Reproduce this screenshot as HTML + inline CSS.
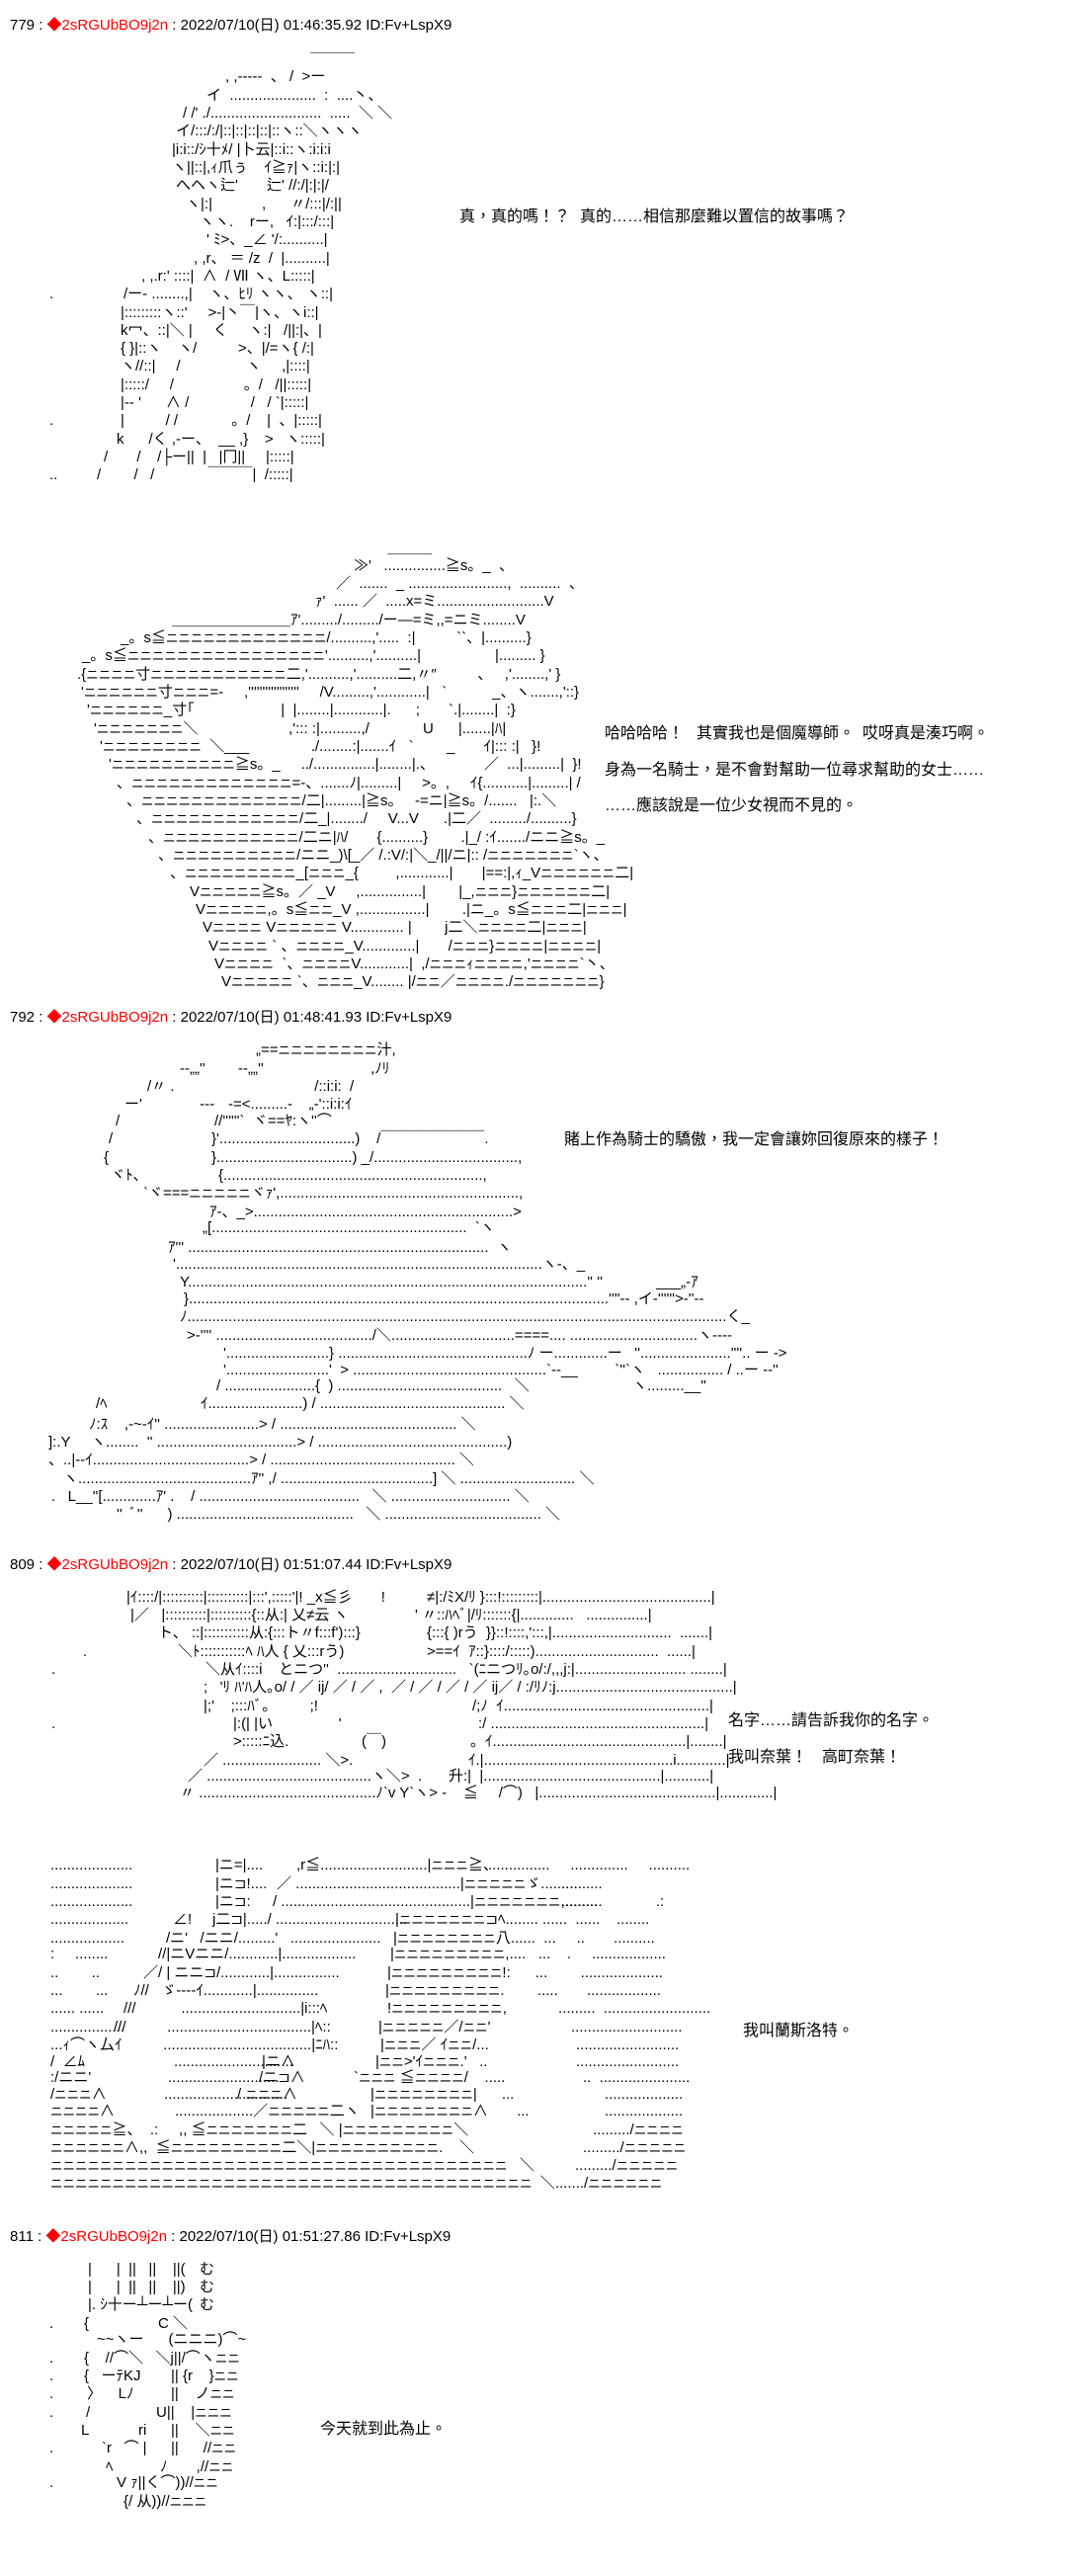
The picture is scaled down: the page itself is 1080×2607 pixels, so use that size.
<!DOCTYPE html>
<html><head><meta charset="utf-8"><style>
body{margin:0;width:1080px;height:2607px;background:#fff;position:relative;overflow:hidden;font-family:"Liberation Sans","Noto Sans CJK JP",sans-serif;color:#000}
.l{position:absolute;white-space:pre;font-size:15px;line-height:18px}
i{font-style:normal;font-size:12.5px}
.h{font-size:15px}
.r{color:#f00}
.t{font-family:"Liberation Sans","Noto Sans CJK TC",sans-serif;font-size:16px}
</style></head><body>

<div class="l h" style="left:10px;top:17px">779 : <span class="r">◆2sRGUbBO9j2n</span> : 2022/07/10(日) 01:46:35.92 ID:Fv+LspX9</div>
<div class="l" style="left:314px;top:53px">￣￣￣</div>
<div class="l" style="left:228px;top:69px">, ,-----  、 /  >ー</div>
<div class="l" style="left:209px;top:88px">イ  .....................  :  ....丶、</div>
<div class="l" style="left:185px;top:106px">/ /' ./...........................  .....  ＼ ＼</div>
<div class="l" style="left:178px;top:124px">イ/:::/:/|::|::|::|::|::ヽ::＼ヽヽヽ</div>
<div class="l" style="left:174px;top:143px">|i:i::/ｼ十ﾒ/ |卜云|::i::ヽ:i:i:i</div>
<div class="l" style="left:174px;top:161px">ヽ||::|,ｨ爪ぅ    ｲ≧ｧ|ヽ::i:|:|</div>
<div class="l" style="left:178px;top:179px">へヘヽ辷'       辷' //:/|:|:|/</div>
<div class="l" style="left:188px;top:198px">ヽ|:|            ,      〃/:::|/:||</div>
<div class="l" style="left:202px;top:216px">ヽヽ.    rー,   ｲ:|:::/:::|</div>
<div class="l" style="left:209px;top:234px">' ﾐ>、_∠ '/:..........|</div>
<div class="l" style="left:196px;top:253px">, ,r、 ＝ /z  /  |..........|</div>
<div class="l" style="left:143px;top:271px">, ,.r:' ::::|  ∧  / Ⅶ ヽ、L:::::|</div>
<div class="l" style="left:50px;top:289px">.</div>
<div class="l" style="left:125px;top:289px">/ー- ........,|    ヽ、ﾋﾘ ヽヽ、 ヽ::|</div>
<div class="l" style="left:122px;top:308px">|:::::::::ヽ::'     >-|丶￣|ヽ、ヽi::|</div>
<div class="l" style="left:122px;top:326px">k冖、::|＼ |     く     ヽ:|   /||:|、|</div>
<div class="l" style="left:122px;top:344px">{ }|::ヽ    ヽ/          >、|/=ヽ{ /:|</div>
<div class="l" style="left:122px;top:362px">ヽ//::|     /                ヽ     ,|::::|</div>
<div class="l" style="left:122px;top:381px">|:::::/     /                 。/   /||:::::|</div>
<div class="l" style="left:122px;top:399px">|-- '      ∧ /               /   / `|:::::|</div>
<div class="l" style="left:50px;top:417px">.</div>
<div class="l" style="left:122px;top:417px">|          / /             。/    |  、|:::::|</div>
<div class="l" style="left:118px;top:436px">k      /く ,-ー、  __ ,}    >   ヽ:::::|</div>
<div class="l" style="left:105px;top:454px">/       /    /├ー||  |   |冂||     |:::::|</div>
<div class="l" style="left:50px;top:472px">..</div>
<div class="l" style="left:98px;top:472px">/        /   /             ￣￣￣|  /:::::|</div>
<div class="l t" style="left:465px;top:211px">真，真的嗎！？</div>
<div class="l t" style="left:587px;top:211px">真的……相信那麼難以置信的故事嗎？</div>

<div class="l" style="left:392px;top:546px">＿＿＿</div>
<div class="l" style="left:358px;top:564px">≫'   ...............≧s。_  、</div>
<div class="l" style="left:340px;top:582px">／  .......  _ ........................,  ..........  、</div>
<div class="l" style="left:319px;top:600px">ｧ'  ...... ／  .....x=ミ..........................V</div>
<div class="l" style="left:174px;top:619px">＿＿＿＿＿＿＿＿ｱ'........./........./ー―=ミ,,=ニミ........V</div>
<div class="l" style="left:122px;top:637px">_。s≦<i>ニニニニニニニニニニニニニ</i>/..........,'.....  :|          ``、|..........}</div>
<div class="l" style="left:83px;top:655px">_。s≦<i>ニニニニニニニニニニニニニニニニ</i>'..........,'..........|                  |......... }</div>
<div class="l" style="left:78px;top:674px">.{<i>ニニニニ</i>寸<i>ニニニニニニニニニニニ</i>二,'..........,'..........二,〃″          、   ,'........,' }</div>
<div class="l" style="left:82px;top:692px">'<i>ニニニニニニ</i>寸<i>ニニニ</i>=-     ,''''''''''''''''''     /V.........,'............|   `           _、ヽ.......,'::}</div>
<div class="l" style="left:88px;top:710px">'<i>ニニニニニニ</i>_寸｢                     |  |........|............|.      ;       `.|........|  :}</div>
<div class="l" style="left:95px;top:729px">'<i>ニニニニニニニ</i>＼                      ,'::: :|..........,/             U      |.......|ﾊ|</div>
<div class="l" style="left:101px;top:747px">'<i>ニニニニニニニニ</i>  ＼___               ./........:|.......ｲ   `        _       ｲ|::: :|   }!</div>
<div class="l" style="left:110px;top:765px">'<i>ニニニニニニニニニニ</i>≧s。_     ../...............|........|.、            ／  ...|.........|  }!</div>
<div class="l" style="left:118px;top:784px">、<i>ニニニニニニニニニニニニニ</i>=-、.......ﾉ|.........|     >。,     ｲ{...........|.........| /</div>
<div class="l" style="left:128px;top:802px">、<i>ニニニニニニニニニニニニニ</i>/二|.........|≧s。   -=ニ|≧s。/.......   |:.＼</div>
<div class="l" style="left:138px;top:820px">、<i>ニニニニニニニニニニニニ</i>/二_|......../     V...V      .|二／  ........./..........}</div>
<div class="l" style="left:150px;top:839px">、<i>ニニニニニニニニニニニ</i>/二ニ|ﾊ/       {..........}        .|_/ :ｲ......./ニニ≧s。_</div>
<div class="l" style="left:160px;top:857px">、<i>ニニニニニニニニニニ</i>/ニニ_)\[_／ /.:V/:|＼_/||/ニ|:: /<i>ニニニニニニニ</i>`ヽ、</div>
<div class="l" style="left:172px;top:875px">、<i>ニニニニニニニニニ</i>_[<i>ニニニ</i>_{         ,............|       |==:|,ｨ_V<i>ニニニニニニ</i>二|</div>
<div class="l" style="left:192px;top:894px">V<i>ニニニニニ</i>≧s。／ _V     ,...............|        |_,<i>ニニニ</i>}<i>ニニニニニニ</i>二|</div>
<div class="l" style="left:198px;top:912px">V<i>ニニニニニ</i>,。s≦<i>ニニ</i>_V ,................|        .|ニ_。s≦<i>ニニニ</i>二|<i>ニニニ</i>|</div>
<div class="l" style="left:205px;top:930px">V<i>ニニニニ</i> V<i>ニニニニニ</i> V............. |        j二＼<i>ニニニニ</i>二|<i>ニニニ</i>|</div>
<div class="l" style="left:211px;top:949px">V<i>ニニニニ</i> ` 、<i>ニニニニ</i>_V.............|       /<i>ニニニ</i>}<i>ニニニニ</i>|<i>ニニニニ</i>|</div>
<div class="l" style="left:217px;top:967px">V<i>ニニニニ</i>  `、<i>ニニニニ</i>V............|  ,/<i>ニニニ</i>ｨ<i>ニニニニ</i>,'<i>ニニニニ</i>`丶、</div>
<div class="l" style="left:224px;top:985px">V<i>ニニニニニ</i> `、<i>ニニニ</i>_V........ |/<i>ニニ</i>／<i>ニニニニ</i>./<i>ニニニニニニニ</i>}</div>
<div class="l t" style="left:612px;top:734px">哈哈哈哈！</div>
<div class="l t" style="left:705px;top:734px">其實我也是個魔導師。</div>
<div class="l t" style="left:873px;top:734px">哎呀真是湊巧啊。</div>
<div class="l t" style="left:612px;top:771px">身為一名騎士，是不會對幫助一位尋求幫助的女士……</div>
<div class="l t" style="left:612px;top:807px">……應該說是一位少女視而不見的。</div>

<div class="l h" style="left:10px;top:1021px">792 : <span class="r">◆2sRGUbBO9j2n</span> : 2022/07/10(日) 01:48:41.93 ID:Fv+LspX9</div>
<div class="l" style="left:259px;top:1054px">„==<i>ニニニニニニニニ</i>汁,</div>
<div class="l" style="left:182px;top:1073px">--„„''        --„„''                          ,ﾉﾘ</div>
<div class="l" style="left:149px;top:1091px">/〃 .                                  /::i:i:  /</div>
<div class="l" style="left:126px;top:1109px">ー'              ---         </div>
<div class="l" style="left:231px;top:1109px">-=<.........-    „-'::i:i:ｲ</div>
<div class="l" style="left:117px;top:1126px">/</div>
<div class="l" style="left:217px;top:1126px">//''''''`  ヾ==ﾔ:ヽ''⌒</div>
<div class="l" style="left:110px;top:1144px">/</div>
<div class="l" style="left:214px;top:1144px">}'.................................)    /￣￣￣￣￣￣￣.</div>
<div class="l" style="left:105px;top:1163px">{</div>
<div class="l" style="left:214px;top:1163px">}.................................) _/...................................,</div>
<div class="l" style="left:112px;top:1181px">ヾﾄ、</div>
<div class="l" style="left:221px;top:1181px">{...............................................................,</div>
<div class="l" style="left:145px;top:1199px">`ヾ===<i>ニニニニニ</i>ヾｧ',..........................................................,</div>
<div class="l" style="left:212px;top:1218px">ｱ-、_>...............................................................></div>
<div class="l" style="left:205px;top:1234px">„[..............................................................  `ヽ</div>
<div class="l" style="left:170px;top:1254px">ｱ''' .........................................................................  ヽ</div>
<div class="l" style="left:175px;top:1271px">'.........................................................................................ヽ-、_</div>
<div class="l" style="left:182px;top:1289px">Y.................................................................................................'' ''             ___„-ｱ</div>
<div class="l" style="left:186px;top:1306px">}......................................................................................................''''-- ,イ-''''''>-''--</div>
<div class="l" style="left:182px;top:1324px">ﾉ...................................................................................................................................く_</div>
<div class="l" style="left:189px;top:1343px">>-'''' ....................................../＼..............................====.... ...............................ヽ----</div>
<div class="l" style="left:226px;top:1361px">'.........................} ..............................................ﾉ ー.............ー   ''......................''''.. ー -></div>
<div class="l" style="left:226px;top:1378px">'.........................'  > ...............................................`--__         `''`ヽ   ................ / ..ー --''</div>
<div class="l" style="left:640px;top:1394px">ヽ.........__''</div>
<div class="l" style="left:219px;top:1394px">/ ......................{  ) ........................................   ＼</div>
<div class="l" style="left:97px;top:1412px">/ﾍ</div>
<div class="l" style="left:203px;top:1412px">ｲ.......................) / ............................................. ＼</div>
<div class="l" style="left:90px;top:1433px">ﾉ:ｽ    ,-~-ｲ'' .......................> / ........................................... ＼</div>
<div class="l" style="left:49px;top:1451px">]:.Y     ヽ........  '' ..................................> / ..............................................)</div>
<div class="l" style="left:49px;top:1469px">、..|--ｲ......................................> / ............................................. ＼</div>
<div class="l" style="left:64px;top:1488px">ヽ..........................................ｱ'' ,/ .....................................] ＼ ............................ ＼</div>
<div class="l" style="left:52px;top:1506px">.   L__''[.............ｱ' .    / .......................................   ＼ ............................. ＼</div>
<div class="l" style="left:118px;top:1524px">''  ﾞ''      ) ...........................................   ＼ ...................................... ＼</div>
<div class="l t" style="left:571px;top:1145px">賭上作為騎士的驕傲，我一定會讓妳回復原來的樣子！</div>

<div class="l h" style="left:10px;top:1575px">809 : <span class="r">◆2sRGUbBO9j2n</span> : 2022/07/10(日) 01:51:07.44 ID:Fv+LspX9</div>
<div class="l" style="left:128px;top:1608px">|ｲ::::/|::::::::::|::::::::::|:::',:::::'|! _x≦彡       !</div>
<div class="l" style="left:432px;top:1608px">≠|:/ﾐX/ﾘ }:::!:::::::::|.........................................|</div>
<div class="l" style="left:132px;top:1626px">|／   |::::::::::|::::::::::{::从:| 乂≠云 ヽ</div>
<div class="l" style="left:420px;top:1626px">' 〃::ﾊﾍﾞ|/ﾘ:::::::{|.............   ...............|</div>
<div class="l" style="left:160px;top:1644px">ト、 ::|:::::::::::从:{:::ト〃f:::f'):::}</div>
<div class="l" style="left:432px;top:1644px">{:::{ )rう  }}::!::::,':::,|.............................  .......|</div>
<div class="l" style="left:84px;top:1663px">.</div>
<div class="l" style="left:180px;top:1663px">＼ﾄ:::::::::::ﾍ ﾊ人 { 乂:::rう)</div>
<div class="l" style="left:432px;top:1663px">>==ｲ  ｱ::}::::/:::::)..............................  ......|</div>
<div class="l" style="left:52px;top:1681px">.</div>
<div class="l" style="left:208px;top:1681px">＼从ｲ::::i    とニつ''  .............................   `(ﾆニつﾘ｡o/:/,,,j:|........................... ........|</div>
<div class="l" style="left:206px;top:1699px">;   'ﾘ ﾊ'ﾊ人｡o/ / ／ ij/ ／ / ／ ,  ／ / ／ / ／ / ／ ij／ / :/ﾘﾉ:j...........................................|</div>
<div class="l" style="left:206px;top:1718px">|;'    ;:::ﾊﾞ。        ;!</div>
<div class="l" style="left:478px;top:1718px">/;ﾉ  ｲ..................................................|</div>
<div class="l" style="left:52px;top:1736px">.</div>
<div class="l" style="left:236px;top:1736px">|:(| |い                '</div>
<div class="l" style="left:484px;top:1736px">:/ ....................................................|</div>
<div class="l" style="left:236px;top:1754px">>:::::ﾆ込.</div>
<div class="l" style="left:366px;top:1754px">(￣)</div>
<div class="l" style="left:476px;top:1754px">。ｲ...............................................|........|</div>
<div class="l" style="left:206px;top:1773px">／ ........................ ＼>.</div>
<div class="l" style="left:474px;top:1773px">ｲ.|..............................................i............|</div>
<div class="l" style="left:190px;top:1789px">／ ........................................ヽ＼>  .</div>
<div class="l" style="left:454px;top:1789px">升:|  |...........................................|...........|</div>
<div class="l" style="left:182px;top:1806px">〃 ...........................................ﾉ`v Y`ヽ> -    ≦     /⌒)   |...........................................|.............|</div>
<div class="l t" style="left:737px;top:1733px">名字……請告訴我你的名字。</div>
<div class="l t" style="left:737px;top:1770px">我叫奈葉！</div>
<div class="l t" style="left:832px;top:1770px">高町奈葉！</div>

<div class="l" style="left:51px;top:1879px">....................</div>
<div class="l" style="left:218px;top:1879px">|ニ=|....</div>
<div class="l" style="left:300px;top:1879px">,r≦..........................|<i>ニニニ</i>≧、</div>
<div class="l" style="left:494px;top:1879px">...............     ..............     ..........</div>
<div class="l" style="left:51px;top:1898px">....................</div>
<div class="l" style="left:218px;top:1898px">|ニ⊐!....</div>
<div class="l" style="left:280px;top:1898px">／ ........................................|<i>ニニニニニ</i>ゞ..........</div>
<div class="l" style="left:568px;top:1898px">..........</div>
<div class="l" style="left:51px;top:1916px">....................</div>
<div class="l" style="left:218px;top:1916px">|ニ⊐:</div>
<div class="l" style="left:276px;top:1916px">/ ..............................................|<i>ニニニニニニニ</i>,........</div>
<div class="l" style="left:568px;top:1916px">..........             .:</div>
<div class="l" style="left:51px;top:1934px">...................</div>
<div class="l" style="left:175px;top:1934px">∠!     j二⊐|...../ ................................</div>
<div class="l" style="left:400px;top:1934px">|<i>ニニニニニニニ</i>⊐ﾍ........ ......  ......    ........</div>
<div class="l" style="left:51px;top:1953px">..................</div>
<div class="l" style="left:168px;top:1953px">/ニ'   /ニニ/.........'   ......................</div>
<div class="l" style="left:398px;top:1953px">|<i>ニニニニニニニニ</i>八......  ...     ..       ..........</div>
<div class="l" style="left:51px;top:1969px">:     ........</div>
<div class="l" style="left:160px;top:1969px">//|ニVニニ/............|..................</div>
<div class="l" style="left:395px;top:1969px">|<i>ニニニニニニニニニ</i>,....   ...    .     ..................</div>
<div class="l" style="left:51px;top:1988px">..        ..</div>
<div class="l" style="left:145px;top:1988px">／/ | ニニ⊐/............|................</div>
<div class="l" style="left:392px;top:1988px">|<i>ニニニニニニニニニ</i>!:      ...        ....................</div>
<div class="l" style="left:51px;top:2006px">...        ...</div>
<div class="l" style="left:135px;top:2006px">ﾉ//   ゞ----ｲ............|...............</div>
<div class="l" style="left:390px;top:2006px">|<i>ニニニニニニニニニ</i>.        .....       ..................</div>
<div class="l" style="left:51px;top:2024px">...... ......</div>
<div class="l" style="left:125px;top:2024px">///           .............................|i:::ﾍ</div>
<div class="l" style="left:392px;top:2024px">!<i>ニニニニニニニニニ</i>,</div>
<div class="l" style="left:565px;top:2024px">.........  ..........................</div>
<div class="l" style="left:51px;top:2043px">..................</div>
<div class="l" style="left:115px;top:2043px">///          ...................................|ﾍ::</div>
<div class="l" style="left:383px;top:2043px">|<i>ニニニニニ</i>／/<i>ニニ</i>'</div>
<div class="l" style="left:578px;top:2043px">...........................</div>
<div class="l" style="left:51px;top:2061px">...ｨ⌒ヽ厶ｲ          ....................................|ﾆﾊ::</div>
<div class="l" style="left:385px;top:2061px">|<i>ニニニ</i>／ ｲ<i>ニニ</i>/...</div>
<div class="l" style="left:583px;top:2061px">.........................</div>
<div class="l" style="left:51px;top:2078px">/  ∠ﾑ</div>
<div class="l" style="left:176px;top:2078px">.............................</div>
<div class="l" style="left:265px;top:2078px">|ニ∧</div>
<div class="l" style="left:380px;top:2078px">|<i>ニニ</i>>'ｲ<i>ニニニ</i>.'   ..</div>
<div class="l" style="left:583px;top:2078px">.........................</div>
<div class="l" style="left:51px;top:2094px">:/ニニ'</div>
<div class="l" style="left:170px;top:2094px">...........................</div>
<div class="l" style="left:262px;top:2094px">/ニ⊐∧</div>
<div class="l" style="left:358px;top:2094px">`<i>ニニニ</i> ≦<i>ニニニニ</i>/    .....</div>
<div class="l" style="left:590px;top:2094px">..  ......................</div>
<div class="l" style="left:51px;top:2111px">/<i>ニニニ</i>∧</div>
<div class="l" style="left:166px;top:2111px">..............................</div>
<div class="l" style="left:240px;top:2111px">/ <i>ニニニ</i>∧</div>
<div class="l" style="left:375px;top:2111px">|<i>ニニニニニニニニ</i>|      ...</div>
<div class="l" style="left:612px;top:2111px">...................</div>
<div class="l" style="left:51px;top:2128px"><i>ニニニニ</i>∧</div>
<div class="l" style="left:177px;top:2128px">...................／<i>ニニニニニ</i>二ヽ</div>
<div class="l" style="left:375px;top:2128px">|<i>ニニニニニニニニ</i>∧       ...</div>
<div class="l" style="left:612px;top:2128px">...................</div>
<div class="l" style="left:51px;top:2147px"><i>ニニニニニ</i>≧、  .:     ,, ≦<i>ニニニニニニニ</i>二   ＼ |<i>ニニニニニニニニニ</i>＼</div>
<div class="l" style="left:600px;top:2147px">........./<i>ニニニニ</i></div>
<div class="l" style="left:51px;top:2165px"><i>ニニニニニニ</i>∧,,  ≦<i>ニニニニニニニニニ</i>二＼|<i>ニニニニニニニニニニ</i>.    ＼</div>
<div class="l" style="left:590px;top:2165px">........./<i>ニニニニニ</i></div>
<div class="l" style="left:51px;top:2183px"><i>ニニニニニニニニニニニニニニニニニニニニニニニニニニニニニニニニニニニニニ</i>   ＼</div>
<div class="l" style="left:582px;top:2183px">........./<i>ニニニニニ</i></div>
<div class="l" style="left:51px;top:2201px"><i>ニニニニニニニニニニニニニニニニニニニニニニニニニニニニニニニニニニニニニニニ</i>  ＼......./<i>ニニニニニニ</i></div>
<div class="l t" style="left:752px;top:2047px">我叫蘭斯洛特。</div>

<div class="l h" style="left:10px;top:2255px">811 : <span class="r">◆2sRGUbBO9j2n</span> : 2022/07/10(日) 01:51:27.86 ID:Fv+LspX9</div>
<div class="l" style="left:89px;top:2288px">|      |  ||   ||    ||(</div>
<div class="l" style="left:202px;top:2288px">む</div>
<div class="l" style="left:89px;top:2306px">|      |  ||   ||    ||)</div>
<div class="l" style="left:202px;top:2306px">む</div>
<div class="l" style="left:89px;top:2324px">|. ｼ十ー┴ー┴ー(</div>
<div class="l" style="left:202px;top:2324px">む</div>
<div class="l" style="left:50px;top:2343px">.</div>
<div class="l" style="left:85px;top:2343px">{</div>
<div class="l" style="left:160px;top:2343px">C ＼</div>
<div class="l" style="left:98px;top:2359px">~~ヽー      (ニニニ)⌒~</div>
<div class="l" style="left:50px;top:2378px">.</div>
<div class="l" style="left:85px;top:2378px">{    //⌒＼   ＼j||/⌒ヽ<i>ニニ</i></div>
<div class="l" style="left:50px;top:2396px">.</div>
<div class="l" style="left:85px;top:2396px">{   ーﾃKJ</div>
<div class="l" style="left:173px;top:2396px">|| {r    }<i>ニニ</i></div>
<div class="l" style="left:50px;top:2414px">.</div>
<div class="l" style="left:88px;top:2414px">〉    Lﾉ</div>
<div class="l" style="left:173px;top:2414px">||    ノ<i>ニニ</i></div>
<div class="l" style="left:50px;top:2433px">.</div>
<div class="l" style="left:87px;top:2433px">/</div>
<div class="l" style="left:158px;top:2433px">U||    |<i>ニニニ</i></div>
<div class="l" style="left:82px;top:2451px">L</div>
<div class="l" style="left:140px;top:2451px">ri</div>
<div class="l" style="left:173px;top:2451px">||    ＼<i>ニニ</i></div>
<div class="l" style="left:50px;top:2469px">.</div>
<div class="l" style="left:103px;top:2469px">`r   ⌒ |</div>
<div class="l" style="left:173px;top:2469px">||      //<i>ニニ</i></div>
<div class="l" style="left:107px;top:2488px">ﾍ</div>
<div class="l" style="left:162px;top:2488px">ﾉ       ,//<i>ニニ</i></div>
<div class="l" style="left:50px;top:2504px">.</div>
<div class="l" style="left:118px;top:2504px">V ｧ||く⌒))//<i>ニニ</i></div>
<div class="l" style="left:125px;top:2523px">{/ 从))//<i>ニニニ</i></div>
<div class="l t" style="left:324px;top:2450px">今天就到此為止。</div>
</body></html>
